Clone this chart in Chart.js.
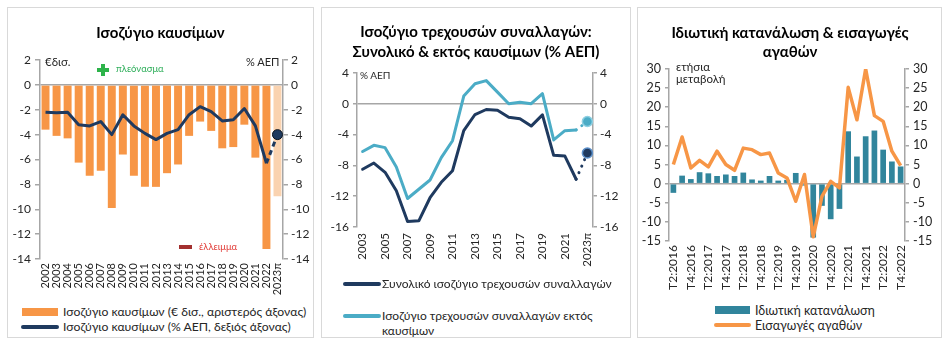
<!DOCTYPE html>
<html lang="el">
<head>
<meta charset="utf-8">
<title>Ισοζύγιο καυσίμων</title>
<script src="https://cdn.jsdelivr.net/npm/chart.js@4.4.1/dist/chart.umd.min.js"></script>
<style>
    body { margin: 0; background: #fff; font-family: Lato, 'Noto Sans', sans-serif; color: #262626; }
    .wrap { position: relative; width: 949px; height: 346px; overflow: hidden; }
    .panel { position: absolute; top: 7px; height: 331px; border: 1px solid #d9d9d9; box-sizing: border-box; }
    canvas { position: absolute; top: 8px; }
    .txt { position: absolute; white-space: nowrap; line-height: 1.2; transform: translateY(-50%); }
    .sw { position: absolute; }
</style>
</head>
<body>
<div class="wrap">
    <div class="panel" style="left:7px; width:307px;"></div>
    <div class="panel" style="left:321px; width:310px;"></div>
    <div class="panel" style="left:637px; width:305px;"></div>

    <canvas id="fuelChart" width="305" height="290" style="left:8px;"></canvas>
    <canvas id="currentChart" width="308" height="290" style="left:322px;"></canvas>
    <canvas id="consChart" width="304" height="290" style="left:638px;"></canvas>

    <!-- panel 1 notes -->
    <div class="txt" style="left:45px; top:62px; font-size:11.5px;">€δισ.</div>
    <div class="txt" style="left:246px; top:62px; font-size:11px;">% ΑΕΠ</div>
    <div class="sw" style="left:97px; top:68px; width:12px; height:4px; background:#2db34a;"></div>
    <div class="sw" style="left:101px; top:64px; width:4px; height:12px; background:#2db34a;"></div>
    <div class="txt" style="left:116px; top:69px; font-size:9.5px; color:#2eae5a;">πλεόνασμα</div>
    <div class="sw" style="left:179px; top:245px; width:13px; height:4px; background:#a3302f;"></div>
    <div class="txt" style="left:199px; top:247px; font-size:9.5px; color:#e2403c;">έλλειμμα</div>

    <!-- panel 1 legend -->
    <div class="sw" style="left:22px; top:308px; width:36px; height:8px; background:#f79646;"></div>
    <div class="txt" style="left:63px; top:312px; font-size:12.2px;">Ισοζύγιο καυσίμων (€ δισ., αριστερός άξονας)</div>
    <div class="sw" style="left:21px; top:325px; width:38px; height:3.5px; border-radius:2px; background:#1f3a5f;"></div>
    <div class="txt" style="left:63px; top:327px; font-size:12.2px;">Ισοζύγιο καυσίμων (% ΑΕΠ, δεξιός άξονας)</div>

    <!-- panel 2 notes and legend -->
    <div class="txt" style="left:360px; top:75px; font-size:10px;">% ΑΕΠ</div>
    <div class="sw" style="left:343px; top:282px; width:38px; height:3.5px; border-radius:2px; background:#1f3a5f;"></div>
    <div class="txt" style="left:382px; top:284px; font-size:12px;">Συνολικό ισοζύγιο τρεχουσών συναλλαγών</div>
    <div class="sw" style="left:343px; top:314px; width:38px; height:3.5px; border-radius:2px; background:#4bacc6;"></div>
    <div class="txt" style="left:382px; top:316px; font-size:12px;">Ισοζύγιο τρεχουσών συναλλαγών εκτός</div>
    <div class="txt" style="left:382px; top:331px; font-size:12px;">καυσίμων</div>

    <!-- panel 3 notes and legend -->
    <div class="txt" style="left:676px; top:67px; font-size:11.5px;">ετήσια</div>
    <div class="txt" style="left:676px; top:79px; font-size:11.5px;">μεταβολή</div>
    <div class="sw" style="left:715px; top:306px; width:35px; height:8px; background:#31859c;"></div>
    <div class="txt" style="left:755px; top:310px; font-size:12.5px;">Ιδιωτική κατανάλωση</div>
    <div class="sw" style="left:714px; top:323px; width:37px; height:3.5px; border-radius:2px; background:#f79646;"></div>
    <div class="txt" style="left:755px; top:325px; font-size:12.5px;">Εισαγωγές αγαθών</div>
</div>

<script>
// --- data ---
const fuelYears = ['2002', '2003', '2004', '2005', '2006', '2007', '2008', '2009', '2010', '2011', '2012',
    '2013', '2014', '2015', '2016', '2017', '2018', '2019', '2020', '2021', '2022', '2023π'];
const fuelBalanceEur = [-3.6, -4.1, -4.3, -6.25, -7.3, -6.9, -9.9, -5.6, -7.3, -8.2, -8.2,
    -7.1, -6.4, -4.1, -2.95, -3.7, -5.1, -5.0, -3.2, -5.85, -13.2, -8.95];
const fuelBalanceGdp = [-2.2, -2.25, -2.2, -3.2, -3.3, -2.95, -4.0, -2.4, -3.3, -3.9, -4.4,
    -3.9, -3.6, -2.4, -1.75, -2.15, -2.9, -2.8, -1.9, -3.3, -6.3, -4.0];

const caYears = ['2003', '2004', '2005', '2006', '2007', '2008', '2009', '2010', '2011', '2012', '2013',
    '2014', '2015', '2016', '2017', '2018', '2019', '2020', '2021', '2022', '2023π'];
const caTotal = [-8.5, -7.7, -8.9, -11.3, -15.3, -15.2, -12.2, -10.2, -8.7, -3.5, -1.4,
    -0.75, -0.85, -1.75, -1.95, -2.9, -1.45, -6.7, -6.8, -9.8, -6.4];
const caExFuel = [-6.2, -5.4, -5.7, -8.2, -12.3, -11.1, -9.9, -7.0, -4.8, 1.0, 2.6,
    3.0, 1.5, 0.0, 0.2, 0.0, 1.3, -4.7, -3.5, -3.4, -2.3];

const quarters = ['T2:2016', 'T3:2016', 'T4:2016',
    'T1:2017', 'T2:2017', 'T3:2017', 'T4:2017',
    'T1:2018', 'T2:2018', 'T3:2018', 'T4:2018',
    'T1:2019', 'T2:2019', 'T3:2019', 'T4:2019',
    'T1:2020', 'T2:2020', 'T3:2020', 'T4:2020',
    'T1:2021', 'T2:2021', 'T3:2021', 'T4:2021',
    'T1:2022', 'T2:2022', 'T3:2022', 'T4:2022'];
const privateConsumption = [-2.4, 2.1, 1.2, 3.0, 2.7, 2.0, 2.4, 2.0, 2.9, 1.1, 0.8,
    2.0, 0.8, 1.0, 2.8, -0.5, -14.1, -5.8, -9.3, -6.6, 13.7, 7.1, 12.4, 13.9, 8.9, 5.8, 4.5];
const goodsImports = [5.0, 12.2, 4.1, 6.1, 4.4, 8.5, 5.0, 3.5, 9.3, 8.9, 7.6,
    8.0, 2.8, 1.5, -4.6, 2.4, -13.9, -3.3, 0.6, -1.1, 25.2, 16.7, 30.0, 17.8, 16.3, 8.5, 4.7];

const fontFamily = "Lato, 'Noto Sans', sans-serif";
const textColor = '#262626';
const axisColor = '#a6a6a6';

Chart.defaults.font.family = fontFamily;
Chart.defaults.color = textColor;
Chart.defaults.animation = false;
Chart.defaults.responsive = false;
Chart.defaults.plugins.legend.display = false;
Chart.defaults.plugins.tooltip.enabled = false;

// zero line only, tick marks stay grey
function zeroGrid(tickLen) {
    return {
        color: ctx => (ctx.tick && ctx.tick.value === 0) ? axisColor : 'transparent',
        tickColor: axisColor,
        tickLength: tickLen,
        lineWidth: 1.5
    };
}

// Panel 1: fuel balance
const fuelLast = fuelYears.length - 1;
new Chart(document.getElementById('fuelChart').getContext('2d'), {
    type: 'bar',
    data: {
        labels: fuelYears,
        datasets: [{
            type: 'line',
            data: fuelBalanceGdp,
            yAxisID: 'y1',
            order: 0,
            borderColor: '#1f3a5f',
            borderWidth: 3,
            tension: 0,
            borderJoinStyle: 'round',
            pointRadius: fuelYears.map((y, i) => i === fuelLast ? 5 : 0),
            pointBackgroundColor: '#1f3a5f',
            pointBorderColor: '#0d1520',
            pointBorderWidth: 1,
            segment: {
                borderDash: ctx => ctx.p1DataIndex === fuelLast ? [5, 4] : undefined
            }
        }, {
            type: 'bar',
            data: fuelBalanceEur,
            yAxisID: 'y',
            order: 1,
            backgroundColor: fuelYears.map((y, i) => i === fuelLast ? '#fad3b0' : '#f79646'),
            barPercentage: 0.72,
            categoryPercentage: 1
        }]
    },
    options: {
        plugins: {
            title: {
                display: true,
                text: 'Ισοζύγιο καυσίμων',
                color: '#000',
                font: { size: 15, weight: 'bold' },
                padding: { top: 16, bottom: 18 }
            }
        },
        scales: {
            x: {
                offset: true,
                grid: { display: false, drawTicks: false },
                border: { display: false },
                ticks: { autoSkip: false, minRotation: 90, maxRotation: 90, padding: 4, font: { size: 11 } },
                afterFit: s => { s.height = 39; }
            },
            y: {
                position: 'left',
                min: -14, max: 2,
                ticks: { stepSize: 2, padding: 4, font: { size: 12 } },
                grid: zeroGrid(5),
                border: { color: axisColor, width: 1.5 },
                afterFit: s => { s.width = 32; }
            },
            y1: {
                position: 'right',
                min: -14, max: 2,
                ticks: { stepSize: 2, padding: 3, font: { size: 12 } },
                grid: { drawOnChartArea: false, tickColor: axisColor, tickLength: 5, lineWidth: 1.5 },
                border: { color: axisColor, width: 1.5 },
                afterFit: s => { s.width = 30; }
            }
        }
    }
});

// Panel 2: current account, total and ex-fuel
const caLast = caYears.length - 1;
function caLine(values, color, ring, order) {
    return {
        data: values,
        order: order,
        borderColor: color,
        borderWidth: 3,
        tension: 0,
        borderJoinStyle: 'round',
        borderCapStyle: 'round',
        pointRadius: caYears.map((y, i) => i === caLast ? 5 : 0),
        pointBackgroundColor: color,
        pointBorderColor: ring,
        pointBorderWidth: 1.5,
        segment: {
            borderDash: ctx => ctx.p1DataIndex === caLast ? [0.1, 7] : undefined
        }
    };
}
new Chart(document.getElementById('currentChart').getContext('2d'), {
    type: 'line',
    data: {
        labels: caYears,
        datasets: [
            caLine(caTotal, '#1f3a5f', '#5b8fc9', 0),
            caLine(caExFuel, '#4bacc6', '#8fd0e2', 1)
        ]
    },
    options: {
        plugins: {
            title: {
                display: true,
                text: ['Ισοζύγιο τρεχουσών συναλλαγών:', 'Συνολικό & εκτός καυσίμων (% ΑΕΠ)'],
                color: '#000',
                font: { size: 15, weight: 'bold', lineHeight: 1.33 },
                padding: { top: 14, bottom: 11 }
            }
        },
        scales: {
            x: {
                offset: true,
                grid: { display: false, drawTicks: false },
                border: { display: false },
                ticks: {
                    autoSkip: false, minRotation: 90, maxRotation: 90, padding: 6, font: { size: 11.5 },
                    callback: (v, i) => i % 2 === 0 ? caYears[i] : ''
                },
                afterFit: s => { s.height = 71; }
            },
            y: {
                position: 'left',
                min: -16, max: 4,
                ticks: { stepSize: 4, padding: 4, font: { size: 12 } },
                grid: zeroGrid(4),
                border: { color: axisColor, width: 1.5 },
                afterFit: s => { s.width = 35; }
            },
            y1: {
                position: 'right',
                min: -16, max: 4,
                ticks: { stepSize: 4, padding: 3, font: { size: 12 } },
                grid: { drawOnChartArea: false, tickColor: axisColor, tickLength: 4, lineWidth: 1.5 },
                border: { color: axisColor, width: 1.5 },
                afterFit: s => { s.width = 37; }
            }
        }
    }
});

// Panel 3: private consumption and goods imports
new Chart(document.getElementById('consChart').getContext('2d'), {
    type: 'bar',
    data: {
        labels: quarters,
        datasets: [{
            type: 'line',
            data: goodsImports,
            order: 0,
            borderColor: '#f79646',
            borderWidth: 3.5,
            tension: 0,
            borderJoinStyle: 'round',
            pointRadius: 0
        }, {
            type: 'bar',
            data: privateConsumption,
            order: 1,
            backgroundColor: '#31859c',
            barPercentage: 0.65,
            categoryPercentage: 1
        }]
    },
    options: {
        plugins: {
            title: {
                display: true,
                text: ['Ιδιωτική κατανάλωση & εισαγωγές', 'αγαθών'],
                color: '#000',
                font: { size: 15, weight: 'bold', lineHeight: 1.3 },
                padding: { top: 15, bottom: 7 }
            }
        },
        scales: {
            x: {
                offset: true,
                grid: { display: false, drawTicks: false },
                border: { display: false },
                ticks: {
                    autoSkip: false, minRotation: 90, maxRotation: 90, padding: 4, font: { size: 12 },
                    callback: (v, i) => i % 2 === 0 ? quarters[i] : ''
                },
                afterFit: s => { s.height = 57; }
            },
            y: {
                position: 'left',
                min: -15, max: 30,
                ticks: { stepSize: 5, padding: 4, font: { size: 12.5 } },
                grid: zeroGrid(4),
                border: { color: axisColor, width: 1.5 },
                afterFit: s => { s.width = 31; }
            },
            y1: {
                position: 'right',
                min: -15, max: 30,
                ticks: { stepSize: 5, padding: 4, font: { size: 12.5 } },
                grid: { drawOnChartArea: false, tickColor: axisColor, tickLength: 4, lineWidth: 1.5 },
                border: { color: axisColor, width: 1.5 },
                afterFit: s => { s.width = 37; }
            }
        }
    }
});
</script>
</body>
</html>
